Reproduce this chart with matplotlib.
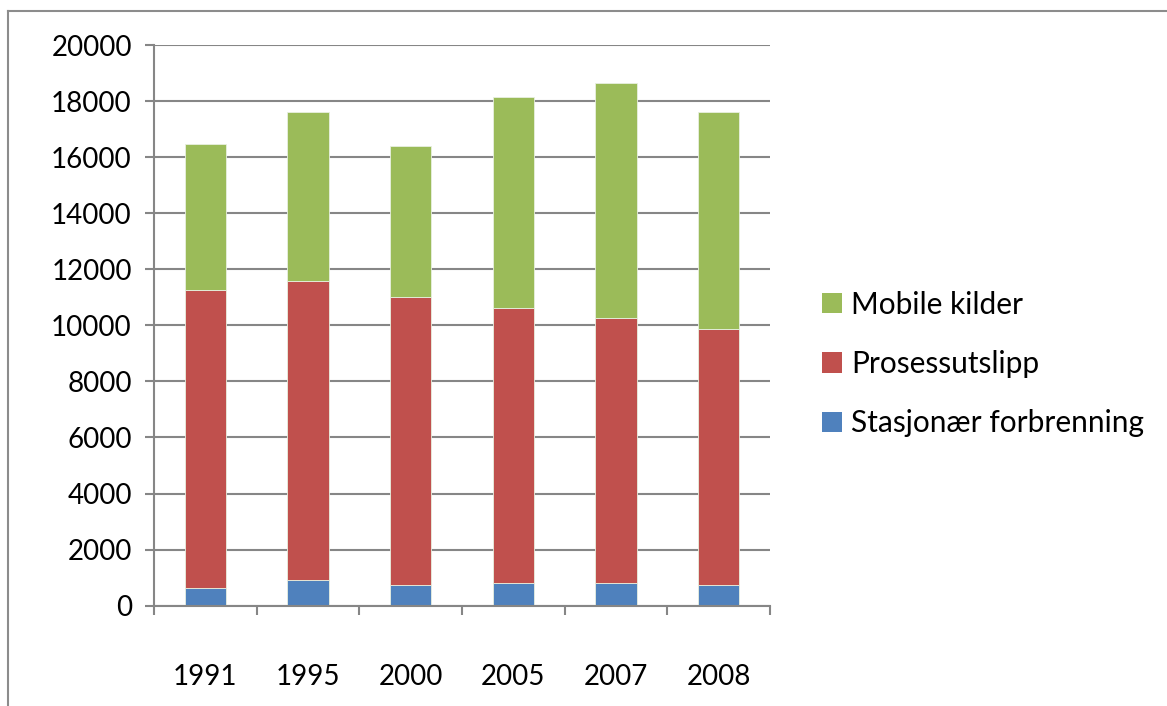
import matplotlib
matplotlib.use("Agg")
import matplotlib.pyplot as plt
from matplotlib.lines import Line2D
from matplotlib.patches import Patch
import numpy as np

years = ["1991", "1995", "2000", "2005", "2007", "2008"]
stasjonaer = [645, 905, 730, 810, 810, 730]
prosess = [10600, 10680, 10265, 9815, 9470, 9125]
mobile = [5230, 6020, 5400, 7505, 8380, 7765]

series_names = ["Stasjonær forbrenning", "Prosessutslipp", "Mobile kilder"]
colors = ["#4F81BD", "#C0504D", "#9BBB59"]
yticks = [0, 2000, 4000, 6000, 8000, 10000, 12000, 14000, 16000, 18000, 20000]

plt.rcParams['font.family'] = ['Lato', 'DejaVu Sans']

W, H = 1167, 706
fig = plt.figure(figsize=(W / 100, H / 100), dpi=100)
ax = fig.add_axes([154 / W, 1 - 605.7 / H, (770 - 154) / W, (605.7 - 45) / H])

x = np.arange(len(years))
bottom = np.zeros(len(years))
handles = []
for name, vals, c in zip(series_names, [stasjonaer, prosess, mobile], colors):
    ax.bar(x, vals, width=0.4, bottom=bottom, color=c, edgecolor="#e8f0e0", linewidth=0.6, zorder=3)
    bottom += np.array(vals)
    handles.append(Patch(facecolor=c, edgecolor="none"))

grid_c = "#868686"
ax.set_xlim(-0.5, len(years) - 0.5)
ax.set_ylim(0, 20000)
ax.set_yticks(yticks)
ax.set_yticklabels([str(v) for v in yticks])
ax.yaxis.grid(True, color=grid_c, linewidth=1.5, zorder=0)
ax.set_axisbelow(True)
for s in ["top", "right"]:
    ax.spines[s].set_visible(False)
for s in ["left", "bottom"]:
    ax.spines[s].set_color(grid_c)
    ax.spines[s].set_linewidth(1.5)
    ax.spines[s].set_zorder(4)

ax.tick_params(axis="y", direction="out", length=6.5, width=1.5, color=grid_c,
               labelsize=20, pad=9.5)
ax.set_xticks(x)
ax.set_xticklabels(years)
ax.set_xticks(np.arange(len(years) + 1) - 0.5, minor=True)
ax.tick_params(axis="x", which="major", length=0, labelsize=20, pad=42)
ax.tick_params(axis="x", which="minor", direction="out", length=6.5, width=1.5, color=grid_c)

leg = fig.legend(handles[::-1], series_names[::-1], loc="center left",
                 bbox_to_anchor=(795 / W, 1 - 364 / H), frameon=False,
                 fontsize=21.5, handlelength=0.67, handleheight=0.67,
                 handletextpad=0.3, labelspacing=1.05)

# outer chart border
fig.add_artist(Line2D([8 / W, 8 / W], [0, 1 - 11 / H], color="#8c8c8c", linewidth=1.5))
fig.add_artist(Line2D([8 / W, 1], [1 - 11 / H, 1 - 11 / H], color="#8c8c8c", linewidth=1.5))

fig.savefig("out.png", dpi=100)
